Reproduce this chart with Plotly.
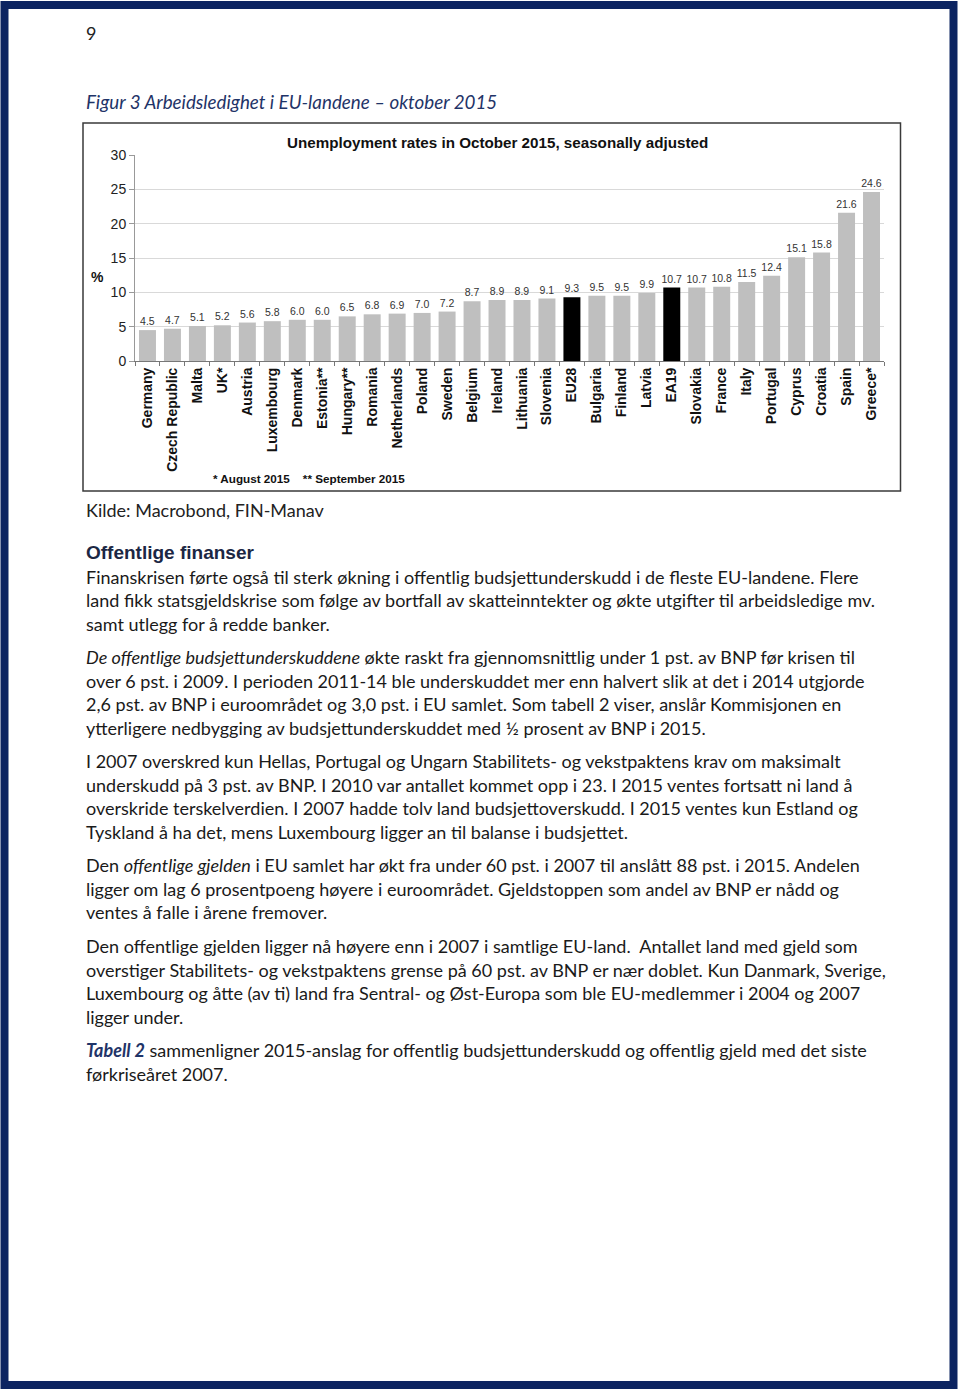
import plotly.graph_objects as go

W, H = 960, 1396

countries = ["Germany", "Czech Republic", "Malta", "UK*", "Austria", "Luxembourg",
             "Denmark", "Estonia**", "Hungary**", "Romania", "Netherlands", "Poland",
             "Sweden", "Belgium", "Ireland", "Lithuania", "Slovenia", "EU28",
             "Bulgaria", "Finland", "Latvia", "EA19", "Slovakia", "France", "Italy",
             "Portugal", "Cyprus", "Croatia", "Spain", "Greece*"]
values = [4.5, 4.7, 5.1, 5.2, 5.6, 5.8, 6.0, 6.0, 6.5, 6.8, 6.9, 7.0, 7.2, 8.7,
          8.9, 8.9, 9.1, 9.3, 9.5, 9.5, 9.9, 10.7, 10.7, 10.8, 11.5, 12.4, 15.1,
          15.8, 21.6, 24.6]
aggregates = ["EU28", "EA19"]
y_ticks = [0, 5, 10, 15, 20, 25, 30]

chart_title = "Unemployment rates in October 2015, seasonally adjusted"
footnote = "* August 2015    ** September 2015"

page_number = "9"
figure_caption = "Figur 3 Arbeidsledighet i EU-landene \u2013 oktober 2015"
source_text = "Kilde: Macrobond, FIN-Manav"
heading = "Offentlige finanser"
paragraphs = [
    ["Finanskrisen førte også til sterk økning i offentlig budsjettunderskudd i de fleste EU-landene. Flere",
     "land fikk statsgjeldskrise som følge av bortfall av skatteinntekter og økte utgifter til arbeidsledige mv.",
     "samt utlegg for å redde banker."],
    ["<i>De offentlige budsjettunderskuddene</i> økte raskt fra gjennomsnittlig under 1 pst. av BNP før krisen til",
     "over 6 pst. i 2009. I perioden 2011-14 ble underskuddet mer enn halvert slik at det i 2014 utgjorde",
     "2,6 pst. av BNP i euroområdet og 3,0 pst. i EU samlet. Som tabell 2 viser, anslår Kommisjonen en",
     "ytterligere nedbygging av budsjettunderskuddet med ½ prosent av BNP i 2015."],
    ["I 2007 overskred kun Hellas, Portugal og Ungarn Stabilitets- og vekstpaktens krav om maksimalt",
     "underskudd på 3 pst. av BNP. I 2010 var antallet kommet opp i 23. I 2015 ventes fortsatt ni land å",
     "overskride terskelverdien. I 2007 hadde tolv land budsjettoverskudd. I 2015 ventes kun Estland og",
     "Tyskland å ha det, mens Luxembourg ligger an til balanse i budsjettet."],
    ["Den <i>offentlige gjelden</i> i EU samlet har økt fra under 60 pst. i 2007 til anslått 88 pst. i 2015. Andelen",
     "ligger om lag 6 prosentpoeng høyere i euroområdet. Gjeldstoppen som andel av BNP er nådd og",
     "ventes å falle i årene fremover."],
    ["Den offentlige gjelden ligger nå høyere enn i 2007 i samtlige EU-land.  Antallet land med gjeld som",
     "overstiger Stabilitets- og vekstpaktens grense på 60 pst. av BNP er nær doblet. Kun Danmark, Sverige,",
     "Luxembourg og åtte (av ti) land fra Sentral- og Øst-Europa som ble EU-medlemmer i 2004 og 2007",
     "ligger under."],
    ["<b><i><span style='color:#1f3468'>Tabell 2</span></i></b> sammenligner 2015-anslag for offentlig budsjettunderskudd og offentlig gjeld med det siste",
     "førkriseåret 2007."],
]
paragraph_tops = [577, 657, 761, 865, 946, 1050]

NAVY = "#0c2461"
BODY_FONT = "Lato, Carlito, 'Open Sans', sans-serif"
CHART_FONT = "'Liberation Sans', Arial, sans-serif"
BODY_SIZE = 18


def px(x):
    return x / W


def py(y):
    return 1 - y / H


bar_colors = ["#000000" if c in aggregates else "#bfbfbf" for c in countries]

fig = go.Figure()
fig.add_trace(go.Bar(
    x=countries, y=values,
    marker=dict(color=bar_colors, line=dict(width=0)),
    texttemplate="%{y:.1f}", textposition="outside",
    textfont=dict(family=CHART_FONT, size=10.5, color="#333333"),
    constraintext="none",
    cliponaxis=False, showlegend=False,
))

fig.update_layout(
    template="none",
    width=W, height=H, autosize=False,
    margin=dict(l=0, r=0, t=0, b=0, pad=0, autoexpand=False),
    paper_bgcolor="white", plot_bgcolor="white",
    bargap=0.32,
    xaxis=dict(
        domain=[px(135), px(884)],
        range=[-0.5, 29.5],
        automargin=False,
        showline=True, linecolor="#777777", linewidth=1,
        ticks="outside", tickson="boundaries", ticklen=4, tickcolor="#777777",
        tickangle=-90,
        tickfont=dict(family=CHART_FONT, size=14, color="#111111", weight="bold"),
        showgrid=False, zeroline=False,
    ),
    yaxis=dict(
        domain=[py(361), py(155)],
        range=[0, 30], tickvals=y_ticks,
        automargin=False,
        showline=True, linecolor="#999999", linewidth=1,
        ticks="outside", ticklen=5, tickcolor="#999999",
        tickfont=dict(family=CHART_FONT, size=14, color="#222222"),
        showgrid=True, gridcolor="#d9d9d9", gridwidth=1,
        zeroline=False,
    ),
    font=dict(family=BODY_FONT),
)

shapes = []
# page frame
shapes.append(dict(type="rect", xref="paper", yref="paper",
                   x0=px(4.5), x1=px(953.5), y0=py(1385), y1=py(5),
                   line=dict(color=NAVY, width=8), fillcolor="rgba(0,0,0,0)", layer="above"))
# chart frame
shapes.append(dict(type="rect", xref="paper", yref="paper",
                   x0=px(83), x1=px(900.5), y0=py(491), y1=py(123),
                   line=dict(color="#3a3a3a", width=1.5), fillcolor="rgba(0,0,0,0)"))
fig.update_layout(shapes=shapes)

ann = []
ann.append(dict(text="<b>" + chart_title + "</b>", x=px(497), y=py(142), xref="paper", yref="paper",
                showarrow=False, xanchor="center", yanchor="middle",
                font=dict(family=CHART_FONT, size=15.2, color="#111111")))
ann.append(dict(text="<b>%</b>", x=px(97), y=py(277), xref="paper", yref="paper",
                showarrow=False, xanchor="center", yanchor="middle",
                font=dict(family=CHART_FONT, size=14, color="#111111")))
ann.append(dict(text="<b>" + footnote + "</b>", x=px(309), y=py(478), xref="paper", yref="paper",
                showarrow=False, xanchor="center", yanchor="middle",
                font=dict(family=CHART_FONT, size=11.7, color="#111111")))

ann.append(dict(text=page_number, x=px(84), y=py(33), xref="paper", yref="paper",
                showarrow=False, xanchor="left", yanchor="middle",
                font=dict(family=BODY_FONT, size=BODY_SIZE, color="#222222")))
ann.append(dict(text="<i>" + figure_caption + "</i>", x=px(84), y=py(101), xref="paper", yref="paper",
                showarrow=False, xanchor="left", yanchor="middle",
                font=dict(family=BODY_FONT, size=18.8, color="#1f3468")))
ann.append(dict(text=source_text, x=px(84), y=py(510), xref="paper", yref="paper",
                showarrow=False, xanchor="left", yanchor="middle",
                font=dict(family=BODY_FONT, size=BODY_SIZE, color="#222222")))
ann.append(dict(text="<b>" + heading + "</b>", x=px(84), y=py(553), xref="paper", yref="paper",
                showarrow=False, xanchor="left", yanchor="middle",
                font=dict(family=CHART_FONT, size=19, color="#1b2744")))

LINE_H = 23.5
for top, lines in zip(paragraph_tops, paragraphs):
    for i, line in enumerate(lines):
        ann.append(dict(text=line, x=px(84), y=py(top + i * LINE_H), xref="paper", yref="paper",
                        showarrow=False, xanchor="left", yanchor="middle",
                        font=dict(family=BODY_FONT, size=BODY_SIZE, color="#1a1a1a")))

fig.update_layout(annotations=ann)

post_js = (
    "var gd=document.getElementById('{plot_id}');"
    "gd.style.position='fixed';gd.style.top='0px';gd.style.left='0px';"
    "document.documentElement.style.margin='0';document.documentElement.style.padding='0';"
    "document.body.style.margin='0';document.body.style.padding='0';"
    "document.documentElement.style.overflow='hidden';document.body.style.overflow='hidden';"
)
fig.write_html("out.html", config={"displayModeBar": False}, post_script=post_js)
